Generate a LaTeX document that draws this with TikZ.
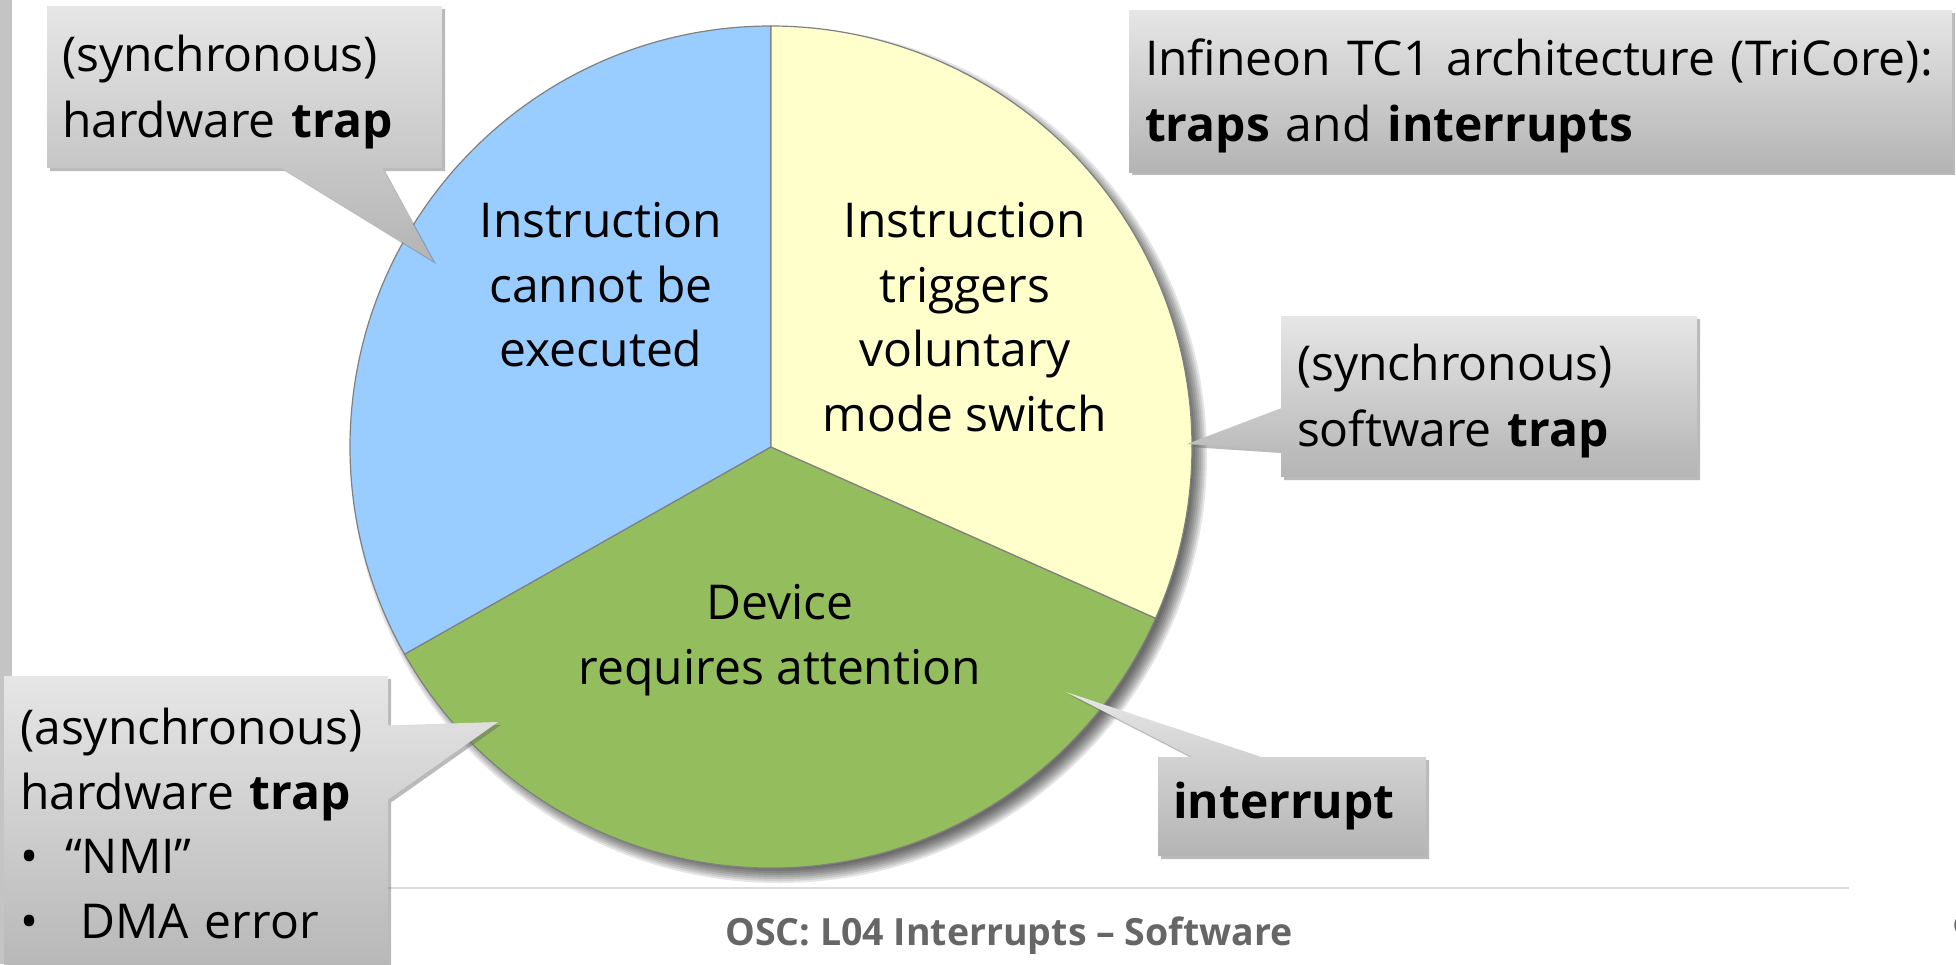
\documentclass[tikz,border=0pt]{standalone}
\usepackage{fontspec}
\setmainfont{Open Sans}
\usepackage{tikz}
\usetikzlibrary{shapes.callouts,shadows}

\definecolor{sliceblue}{HTML}{99CCFF}
\definecolor{sliceyellow}{HTML}{FFFFCC}
\definecolor{slicegreen}{HTML}{94BD5E}
\definecolor{sliceedge}{HTML}{808080}
\definecolor{notetop}{HTML}{E6E6E6}
\definecolor{notebot}{HTML}{B4B4B4}
\definecolor{footgray}{HTML}{666666}
\definecolor{rulegray}{HTML}{DCDCDC}
\definecolor{bargray}{HTML}{C4C4C4}

\begin{document}
\begin{tikzpicture}[x=1pt, y=-1pt,
  slice/.style={draw=sliceedge, line width=1.2pt},
  pietext/.style={align=center, font=\fontsize{48}{64.5}\selectfont},
  notebox/.style={top color=notetop, bottom color=notebot,
    drop shadow={shadow xshift=3pt, shadow yshift=-3pt, opacity=0.45, fill=black!60},
    align=left, inner xsep=15pt, inner ysep=0pt,
    font=\fontsize{48}{66}\selectfont},
  note/.style={notebox, rectangle callout},
  footer/.style={font=\fontsize{37.5}{44}\selectfont\bfseries, text=footgray}
]
\useasboundingbox (0,0) rectangle (1956,964);

% left slide edge
\fill[bargray] (0,0) rectangle (12,964);

% pie shadow
\coordinate (cs) at (779,455);
\foreach \r in {414,416,...,428}
  \fill[black, opacity=0.1] (cs) circle[radius=\r pt];

% pie slices
\coordinate (c) at (771,447);
\filldraw[slice, fill=sliceblue] (c) -- ++(90:421pt)
  arc[start angle=90, end angle=209.5, radius=421pt] -- cycle;
\filldraw[slice, fill=slicegreen] (c) -- ++(209.5:421pt)
  arc[start angle=209.5, end angle=336, radius=421pt] -- cycle;
\filldraw[slice, fill=sliceyellow] (c) -- ++(336:421pt)
  arc[start angle=336, end angle=450, radius=421pt] -- cycle;

% slice texts
\node[pietext] (cannotexec) at (601,285) {Instruction\\cannot be\\executed};
\node[pietext] (voluntary) at (965,317) {Instruction\\triggers\\voluntary\\mode switch};
\node[pietext] (device) at (780,640) {Device\\requires attention};

% footer
\draw[rulegray, line width=2pt] (388,888) -- (1849,888);
\node[footer, anchor=base] (foot) at (1009,945) {OSC: L04 Interrupts -- Software};
\node[footer, anchor=base west, font=\fontsize{40}{48}\selectfont\bfseries] (pagenum) at (1950,944) {9};

% pointer tips
\coordinate (hwtrapTip) at (433,261);
\coordinate (swtrapTip) at (1187,444);
\coordinate (irqTip) at (1066,692);
\coordinate (asyncTip) at (498,722);

% callouts
\node[note, callout absolute pointer={(hwtrapTip)}, callout pointer width=100pt,
  minimum width=395pt, minimum height=162pt, text width=365pt]
  (hwtrap) at (244.5,87) {\strut(synchronous)\\hardware \textbf{trap}};

\node[notebox, rectangle, inner xsep=16pt,
  minimum width=823pt, minimum height=162pt, text width=791pt]
  (arch) at (1540.5,91) {\strut Infineon TC1 architecture (TriCore):\\\textbf{traps} and \textbf{interrupts}};

\node[note, callout absolute pointer={(swtrapTip)}, callout pointer width=42pt,
  inner xsep=16pt, minimum width=416pt, minimum height=161pt, text width=384pt]
  (swtrap) at (1489,396.5) {\strut(synchronous)\\software \textbf{trap}};

\node[note, callout absolute pointer={(irqTip)}, callout pointer width=69pt,
  minimum width=268pt, minimum height=99pt, text width=238pt]
  (irq) at (1292,806.5) {\textbf{interrupt}};

\node[note, callout absolute pointer={(asyncTip)}, callout pointer width=74pt,
  anchor=north west, inner xsep=16pt, inner ysep=32pt, text width=352pt,
  font=\fontsize{48}{64.5}\selectfont]
  (asynctrap) at (4,676) {(asynchronous)\\hardware \textbf{trap}\\
  \makebox[45pt][l]{•}“NMI”\\\makebox[60pt][l]{•}DMA error\strut};

\end{tikzpicture}
\end{document}
